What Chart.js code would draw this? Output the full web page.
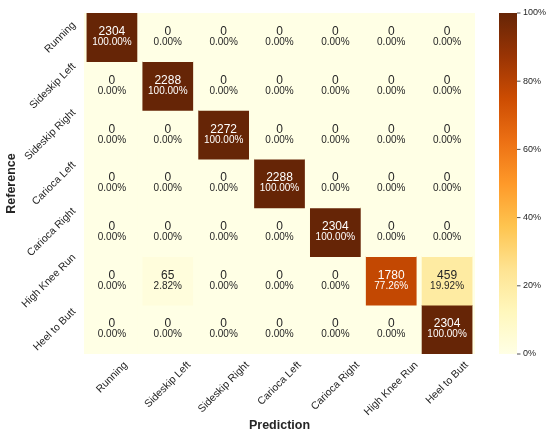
<!DOCTYPE html>
<html>
<head>
<meta charset="utf-8">
<script src="https://cdn.jsdelivr.net/npm/chart.js@4.4.1/dist/chart.umd.min.js"></script>
<style>
  html, body { margin: 0; padding: 0; background: #fff; }
  #wrap { width: 550px; height: 433px; }
</style>
</head>
<body>
<div id="wrap"><canvas id="cm"></canvas></div>
<script>
// classes (same order for reference rows and prediction columns)
const classes = ["Running", "Sideskip Left", "Sideskip Right", "Carioca Left", "Carioca Right", "High Knee Run", "Heel to Butt"];

// counts, one array per reference row
const rowRunning       = [2304, 0, 0, 0, 0, 0, 0];
const rowSideskipLeft  = [0, 2288, 0, 0, 0, 0, 0];
const rowSideskipRight = [0, 0, 2272, 0, 0, 0, 0];
const rowCariocaLeft   = [0, 0, 0, 2288, 0, 0, 0];
const rowCariocaRight  = [0, 0, 0, 0, 2304, 0, 0];
const rowHighKnee      = [0, 65, 0, 0, 0, 1780, 459];
const rowHeelToButt    = [0, 0, 0, 0, 0, 0, 2304];

// row percentages as printed in the cells
const pctRunning       = [100, 0, 0, 0, 0, 0, 0];
const pctSideskipLeft  = [0, 100, 0, 0, 0, 0, 0];
const pctSideskipRight = [0, 0, 100, 0, 0, 0, 0];
const pctCariocaLeft   = [0, 0, 0, 100, 0, 0, 0];
const pctCariocaRight  = [0, 0, 0, 0, 100, 0, 0];
const pctHighKnee      = [0, 2.82, 0, 0, 0, 77.26, 19.92];
const pctHeelToButt    = [0, 0, 0, 0, 0, 0, 100];

// colorbar ticks
const cbarTicks = [0, 20, 40, 60, 80, 100];

const counts = [rowRunning, rowSideskipLeft, rowSideskipRight, rowCariocaLeft, rowCariocaRight, rowHighKnee, rowHeelToButt];
const pcts = [pctRunning, pctSideskipLeft, pctSideskipRight, pctCariocaLeft, pctCariocaRight, pctHighKnee, pctHeelToButt];

const FONT = "'Liberation Sans', Arial, sans-serif";
const TICK_SIZE = 10.5;

// YlOrBr
const stops = ["#ffffe5", "#fff7bc", "#fee391", "#fec44f", "#fe9929", "#ec7014", "#cc4c02", "#993404", "#662506"];
function hex2rgb(h) {
    return [parseInt(h.substr(1, 2), 16), parseInt(h.substr(3, 2), 16), parseInt(h.substr(5, 2), 16)];
}
const stopRgb = stops.map(hex2rgb);
function cmapRgb(t) {
    t = Math.max(0, Math.min(1, t));
    const p = t * (stops.length - 1);
    const i = Math.min(Math.floor(p), stops.length - 2);
    const f = p - i;
    const a = stopRgb[i], b = stopRgb[i + 1];
    return [0, 1, 2].map(k => Math.round(a[k] + (b[k] - a[k]) * f));
}
function cmap(t) {
    const c = cmapRgb(t);
    return "rgb(" + c[0] + "," + c[1] + "," + c[2] + ")";
}
function textColor(t) {
    const c = cmapRgb(t).map(v => {
        v = v / 255;
        return v <= 0.03928 ? v / 12.92 : Math.pow((v + 0.055) / 1.055, 2.4);
    });
    const lum = 0.2126 * c[0] + 0.7152 * c[1] + 0.0722 * c[2];
    return lum > 0.408 ? "#262626" : "#ffffff";
}

// rotated labels are centred on their cell like matplotlib does it:
// shift each tick by a share of its label length
const measureCtx = document.createElement("canvas").getContext("2d");
measureCtx.font = TICK_SIZE + "px " + FONT;
const labelShift = classes.map(c => measureCtx.measureText(c).width * 0.354);
const ROW_PX = 341 / 7, COL_PX = 391 / 7;

Chart.defaults.font.family = FONT;
Chart.defaults.color = "#262626";

const datasets = counts.map((row, r) => ({
    label: classes[r],
    data: row.map((v, c) => ({ x: classes[c], y: [r, r + 1] })),
    backgroundColor: ctx => cmap(pcts[r][ctx.dataIndex] / 100),
    borderWidth: 0,
    barPercentage: 1,
    categoryPercentage: 1,
    grouped: false
}));

// fill the plot background, write the cell texts and draw the colorbar
const heatmapExtras = {
    id: "heatmapExtras",
    beforeDatasetsDraw(chart) {
        const { ctx, chartArea: a } = chart;
        ctx.save();
        ctx.fillStyle = cmap(0);
        ctx.fillRect(a.left, a.top, a.right - a.left, a.bottom - a.top);
        ctx.restore();
    },
    afterDatasetsDraw(chart) {
        const { ctx } = chart;
        ctx.save();
        ctx.textAlign = "center";
        ctx.textBaseline = "middle";
        chart.data.datasets.forEach((ds, r) => {
            chart.getDatasetMeta(r).data.forEach((bar, c) => {
                const t = pcts[r][c] / 100;
                const cy = (bar.y + bar.base) / 2;
                ctx.fillStyle = textColor(t);
                ctx.font = "12px " + FONT;
                ctx.fillText(String(counts[r][c]), bar.x, cy - 5.5);
                ctx.font = "10px " + FONT;
                ctx.fillText(pcts[r][c].toFixed(2) + "%", bar.x, cy + 5);
            });
        });

        // colorbar
        const s = chart.scales.cbar;
        const x0 = 499, w = 18;
        const top = s.getPixelForValue(100), bottom = s.getPixelForValue(0);
        const grad = ctx.createLinearGradient(0, bottom, 0, top);
        stops.forEach((col, i) => grad.addColorStop(i / (stops.length - 1), col));
        ctx.fillStyle = grad;
        ctx.fillRect(x0, top, w, bottom - top);
        ctx.strokeStyle = "#262626";
        ctx.lineWidth = 0.8;
        ctx.fillStyle = "#262626";
        ctx.font = "9px " + FONT;
        ctx.textAlign = "left";
        cbarTicks.forEach(v => {
            const y = s.getPixelForValue(v);
            ctx.beginPath();
            ctx.moveTo(x0 + w, y);
            ctx.lineTo(x0 + w + 3.5, y);
            ctx.stroke();
            ctx.fillText(v + "%", x0 + w + 6, y);
        });
        ctx.restore();
    }
};

// fixed axis boxes, no extra room for overhanging labels
function fixBox(size) {
    return scale => {
        if (scale.isHorizontal()) scale.height = size; else scale.width = size;
        scale.paddingTop = 0;
        scale.paddingBottom = 0;
        scale.paddingLeft = 0;
        scale.paddingRight = 0;
    };
}

new Chart(document.getElementById("cm"), {
    type: "bar",
    data: { labels: classes, datasets: datasets },
    options: {
        responsive: true,
        maintainAspectRatio: false,
        animation: false,
        layout: { padding: { top: 13, right: 75, bottom: 0, left: 0 } },
        plugins: {
            legend: { display: false },
            tooltip: { enabled: false }
        },
        scales: {
            x: {
                type: "category",
                grid: { display: false, drawTicks: false },
                border: { display: false },
                afterBuildTicks: scale => {
                    scale.ticks = classes.map((c, i) => ({ value: i + labelShift[i] / COL_PX }));
                },
                ticks: {
                    autoSkip: false,
                    minRotation: 45,
                    maxRotation: 45,
                    padding: 5,
                    font: { size: TICK_SIZE },
                    callback: (value, index) => classes[index]
                },
                title: {
                    display: true,
                    text: "Prediction",
                    font: { size: 12.5, weight: "bold" },
                    padding: { top: 0, bottom: 0 }
                },
                afterFit: fixBox(79)
            },
            y: {
                type: "linear",
                min: 0,
                max: 7,
                reverse: true,
                grid: { display: false, drawTicks: false },
                border: { display: false },
                afterBuildTicks: scale => {
                    scale.ticks = classes.map((c, i) => ({ value: i + 0.5 - labelShift[i] / ROW_PX }));
                },
                ticks: {
                    autoSkip: false,
                    minRotation: 45,
                    maxRotation: 45,
                    padding: 10,
                    font: { size: TICK_SIZE },
                    callback: (value, index) => classes[index]
                },
                title: {
                    display: true,
                    text: "Reference",
                    font: { size: 12.5, weight: "bold" },
                    padding: { top: 4, bottom: 0 }
                },
                afterFit: fixBox(84)
            },
            cbar: {
                type: "linear",
                display: false,
                position: "right",
                min: 0,
                max: 100
            }
        }
    },
    plugins: [heatmapExtras]
});
</script>
</body>
</html>
